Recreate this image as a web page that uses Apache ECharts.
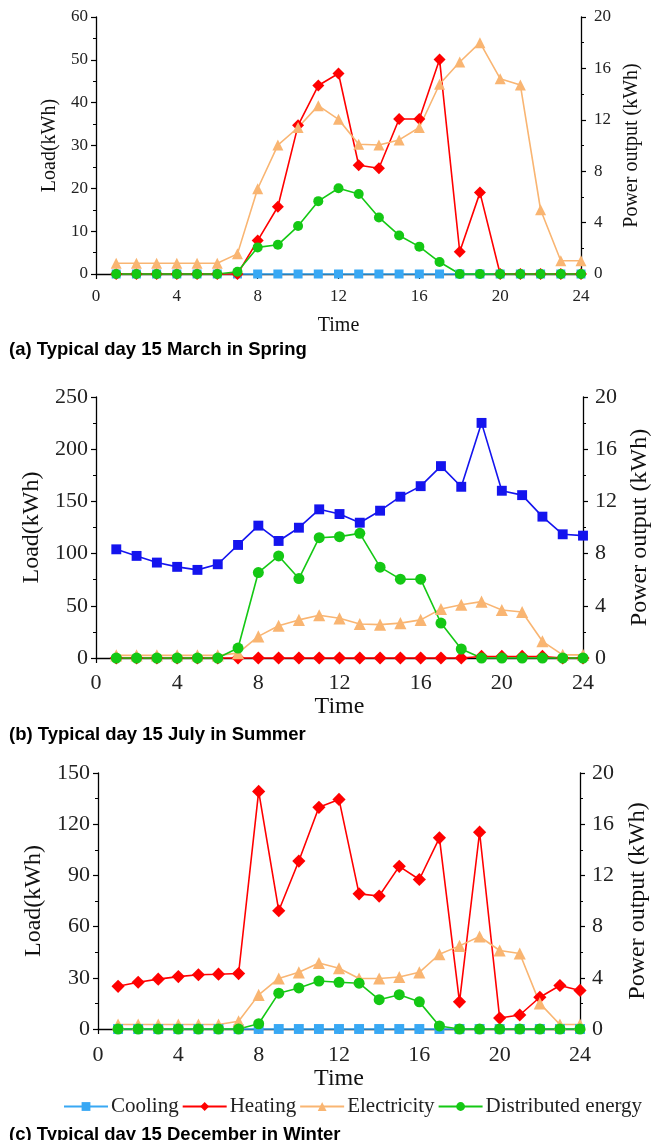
<!DOCTYPE html>
<html><head><meta charset="utf-8">
<script src="https://cdn.jsdelivr.net/npm/echarts@6/dist/echarts.min.js"></script>
<style>html,body{margin:0;padding:0;background:#fff}#c{width:660px;height:1140px}</style>
</head><body><div id="c"></div>
<script>
const hours = [1,2,3,4,5,6,7,8,9,10,11,12,13,14,15,16,17,18,19,20,21,22,23,24];
const seriesNames = ['Cooling','Heating','Electricity','Distributed energy'];
const panelTitles = ['(a) Typical day 15 March in Spring','(b) Typical day 15 July in Summer','(c) Typical day 15 December in Winter'];

// Panel (a) Spring
const coolingA = [0,0,0,0,0,0,0,0,0,0,0,0,0,0,0,0,0,0,0,0,0,0,0,0];
const heatingA = [0,0,0,0,0,0,0,7.8,15.7,34.7,44.0,46.8,25.4,24.7,36.2,36.2,50.1,5.2,19.0,0,0,0,0,0];
const electricityA = [2.5,2.5,2.5,2.5,2.5,2.5,4.7,19.9,30.1,34.2,39.3,36.1,30.3,30.1,31.3,34.2,44.3,49.5,54.0,45.6,44.1,15.0,3.1,3.1];
const distributedA = [0,0,0,0,0,0,0.17,2.07,2.27,3.73,5.67,6.67,6.23,4.4,3.0,2.13,0.93,0,0,0,0,0,0,0];

// Panel (b) Summer
const coolingB = [104.1,97.8,91.4,87.3,84.4,89.8,108.3,126.8,112.1,124.8,142.4,137.9,129.6,141.1,154.5,164.6,183.8,164,225.2,160.2,156,135.4,118.5,117.2];
const heatingB = [0,0,0,0,0,0,0,0,0,0,0,0,0,0,0,0,0,0,1.5,1.5,1.5,1.5,0,0];
const electricityB = [2.5,2.5,2.5,2.5,2.5,2.5,4.7,20.7,30.9,36.5,41,38,32.5,32,33.4,36.5,47,51,54,46,44,16,3,3];
const distributedB = [0,0,0,0,0,0,0.76,6.55,7.82,6.09,9.22,9.3,9.55,6.96,6.04,6.04,2.68,0.69,0,0,0,0,0,0];

// Panel (c) Winter
const coolingC = [0,0,0,0,0,0,0,0,0,0,0,0,0,0,0,0,0,0,0,0,0,0,0,0];
const heatingC = [25,27.4,29.2,30.7,31.8,32.1,32.5,139.2,69.3,98.4,129.9,134.5,79.2,77.9,95.3,87.6,112,15.9,115.3,6.4,8.2,18.6,25.5,22.6];
const electricityC = [2.6,2.6,2.6,2.6,2.6,2.6,4.5,20,29.6,33.2,38.7,35.6,29.6,29.6,30.5,33.2,43.8,48.7,54.2,46,44.2,15,2.6,2.6];
const distributedC = [0,0,0,0,0,0,0,0.41,2.8,3.21,3.75,3.65,3.58,2.29,2.68,2.12,0.24,0,0,0,0,0,0,0];

const loadMax = [60,250,150];
const loadInterval = [10,50,30];
const powerMax = 20, powerInterval = 4;

const panels = [
  {cool:coolingA, heat:heatingA, elec:electricityA, dist:distributedA},
  {cool:coolingB, heat:heatingB, elec:electricityB, dist:distributedB},
  {cool:coolingC, heat:heatingC, elec:electricityC, dist:distributedC}
];

// layout
const grids = [
  {left:96, right:79, top:17, height:257},
  {left:96, right:77, top:397, height:261},
  {left:98, right:80, top:773, height:256}
];
const tickFont = [17,22,22];
const nameFont = [20,24,24];
const xLabelMargin = [14,14,15];
const xNameGap = [42,36,37];
const yNameGap = [29,45,45];
const yrNameGap = [38,44,46];
const yrLabelMargin = [13,12,12];
const titleTop = [335,720,1120];
const symScale = [1,1.1,1.1];

const serif = '"Liberation Serif","DejaVu Serif",serif';
const C_COOL = '#38a8f4', C_COOL_B = '#1414ee', C_HEAT = '#ff0000', C_ELEC = '#f9b572', C_DIST = '#14c814';

const pair = arr => hours.map((h,i)=>[h, arr[i]]);

const xAxis = [], yAxis = [], series = [], title = [];
grids.forEach((g,i)=>{
  const axLine = {show:true, lineStyle:{color:'#000', width:1.3}};
  const tick = {show:true, length:5, lineStyle:{color:'#000', width:1.2}};
  const minor = {show:true, splitNumber:2, length:3, lineStyle:{color:'#000', width:1}};
  xAxis.push({gridIndex:i, type:'value', min:0, max:24, interval:4,
    name:'Time', nameLocation:'middle', nameGap:xNameGap[i],
    nameTextStyle:{fontFamily:serif, fontSize:nameFont[i], color:'#111'},
    axisLine:{...axLine, onZero:false}, axisTick:tick, minorTick:minor,
    axisLabel:{fontFamily:serif, fontSize:tickFont[i], color:'#222', margin:xLabelMargin[i]},
    splitLine:{show:false}});
  yAxis.push({gridIndex:i, type:'value', position:'left', min:0, max:loadMax[i], interval:loadInterval[i],
    name:'Load(kWh)', nameLocation:'middle', nameGap:yNameGap[i], nameRotate:90,
    nameTextStyle:{fontFamily:serif, fontSize:nameFont[i], color:'#111'},
    axisLine:axLine, axisTick:tick, minorTick:minor,
    axisLabel:{fontFamily:serif, fontSize:tickFont[i], color:'#222', margin:8},
    splitLine:{show:false}});
  yAxis.push({gridIndex:i, type:'value', position:'right', min:0, max:powerMax, interval:powerInterval,
    name:'Power output (kWh)', nameLocation:'middle', nameGap:yrNameGap[i], nameRotate:90,
    nameTextStyle:{fontFamily:serif, fontSize:nameFont[i], color:'#111'},
    axisLine:axLine, axisTick:tick, minorTick:minor,
    axisLabel:{fontFamily:serif, fontSize:tickFont[i], color:'#222', margin:yrLabelMargin[i]},
    splitLine:{show:false}});
  title.push({text:panelTitles[i], left:4, top:titleTop[i],
    textStyle:{fontFamily:'"Liberation Sans",Arial,sans-serif', fontWeight:'bold', fontSize:18.5, color:'#000'}});
  const p = panels[i];
  const s = symScale[i];
  const mk = (name, data, color, symbol, yIdx, symSize) => ({
    name, type:'line', xAxisIndex:i, yAxisIndex:yIdx, data:pair(data),
    symbol, symbolSize:symSize, showSymbol:true, clip:false,
    lineStyle:{color, width:1.6}, itemStyle:{color}, emphasis:{disabled:true}
  });
  series.push(mk(seriesNames[0], p.cool, i===1?C_COOL_B:C_COOL, 'rect', i*2, 9*s));
  series.push(mk(seriesNames[1], p.heat, C_HEAT, 'diamond', i*2, 12*s));
  series.push(mk(seriesNames[2], p.elec, C_ELEC, 'triangle', i*2, 11*s));
  series.push(mk(seriesNames[3], p.dist, C_DIST, 'circle', i*2+1, 10*s));
});

const chart = echarts.init(document.getElementById('c'), null, {renderer:'canvas'});
chart.setOption({
  animation:false,
  backgroundColor:'#fff',
  title,
  grid: grids,
  xAxis, yAxis, series,
  legend:{
    data: seriesNames.map(n=>({name:n, itemStyle:{color: n==='Cooling'?C_COOL:(n==='Heating'?C_HEAT:(n==='Electricity'?C_ELEC:C_DIST))}})),
    top:1091, left:58, itemGap:3, itemWidth:44, itemHeight:11,
    textStyle:{fontFamily:serif, fontSize:21, color:'#222', padding:[0,0,0,-2]},
    selectedMode:false
  }
});
</script></body></html>
